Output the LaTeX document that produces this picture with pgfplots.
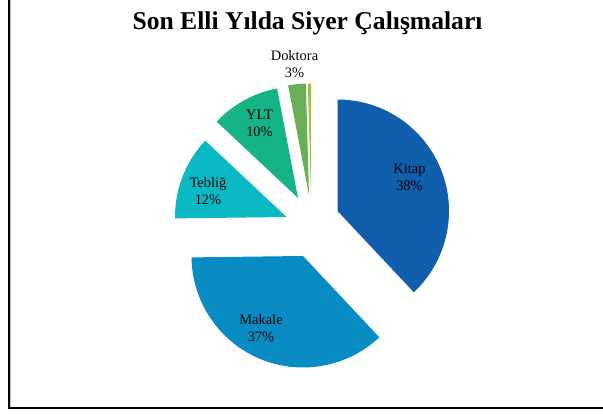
\documentclass[border=0pt]{standalone}
\usepackage{pgfplots}
\pgfplotsset{compat=1.18}
\usepackage{fontspec}
\setmainfont{Liberation Serif}
\definecolor{ckitap}{RGB}{16,94,172}
\definecolor{cmakale}{RGB}{8,140,195}
\definecolor{cteblig}{RGB}{10,185,195}
\definecolor{cylt}{RGB}{20,180,135}
\definecolor{cdoktora}{RGB}{105,175,85}
\definecolor{cother}{RGB}{165,190,60}
% #1 = cumulative start (percent), #2 = value (percent), #3 = colour,
% #4,#5 = position of the (exploded) slice's tip
\newcommand{\pieslice}[5]{%
  \pgfmathsetmacro{\sa}{90-3.6*(#1)}%
  \pgfmathsetmacro{\ea}{90-3.6*((#1)+(#2))}%
  \pgfmathsetmacro{\ox}{#4}%
  \pgfmathsetmacro{\oy}{414-(#5)}%
  \edef\doslice{\noexpand\addplot[fill=#3,draw=none,domain=\ea:\sa,samples=90,variable=\noexpand\t] ({\ox+111.5*cos(\noexpand\t)},{\oy+111.5*sin(\noexpand\t)}) -- (axis cs:\ox,\oy) -- cycle;}%
  \doslice}
\begin{document}
\begin{tikzpicture}
\begin{axis}[width=603bp,height=414bp,scale only axis,
  xmin=0,xmax=603,ymin=0,ymax=414,hide axis,clip=false]
\pieslice{0}{38.0}{ckitap}{337.5}{211}
\pieslice{38.0}{36.8}{cmakale}{303}{256}
\pieslice{74.8}{12.2}{cteblig}{286.5}{217}
\pieslice{87.0}{10.0}{cylt}{298}{198}
\pieslice{97.0}{2.55}{cdoktora}{309}{195}
\pieslice{99.55}{0.45}{cother}{311}{195}
\begin{scope}[every node/.style={align=center,font=\fontsize{14.5}{17}\selectfont}]
\node at (axis cs:409.5,237) {Kitap\\38\%};
\node at (axis cs:261,86) {Makale\\37\%};
\node at (axis cs:208,222.5) {Tebliğ\\12\%};
\node at (axis cs:259.5,291) {YLT\\10\%};
\node at (axis cs:294.5,350) {Doktora\\3\%};
\end{scope}
\node[anchor=base,font=\fontsize{25.7}{30}\selectfont\bfseries] at (axis cs:307.5,384) {Son Elli Yılda Siyer Çalışmaları};
\draw[gray!50,line width=0.8bp] (axis cs:10.8,414) -- (axis cs:10.8,7.2);
\draw[black,line width=2bp] (axis cs:9,414) -- (axis cs:9,6) -- (axis cs:603,6);
\end{axis}
\pgfresetboundingbox
\path[use as bounding box] (current axis.south west) rectangle (current axis.north east);
\end{tikzpicture}
\end{document}
